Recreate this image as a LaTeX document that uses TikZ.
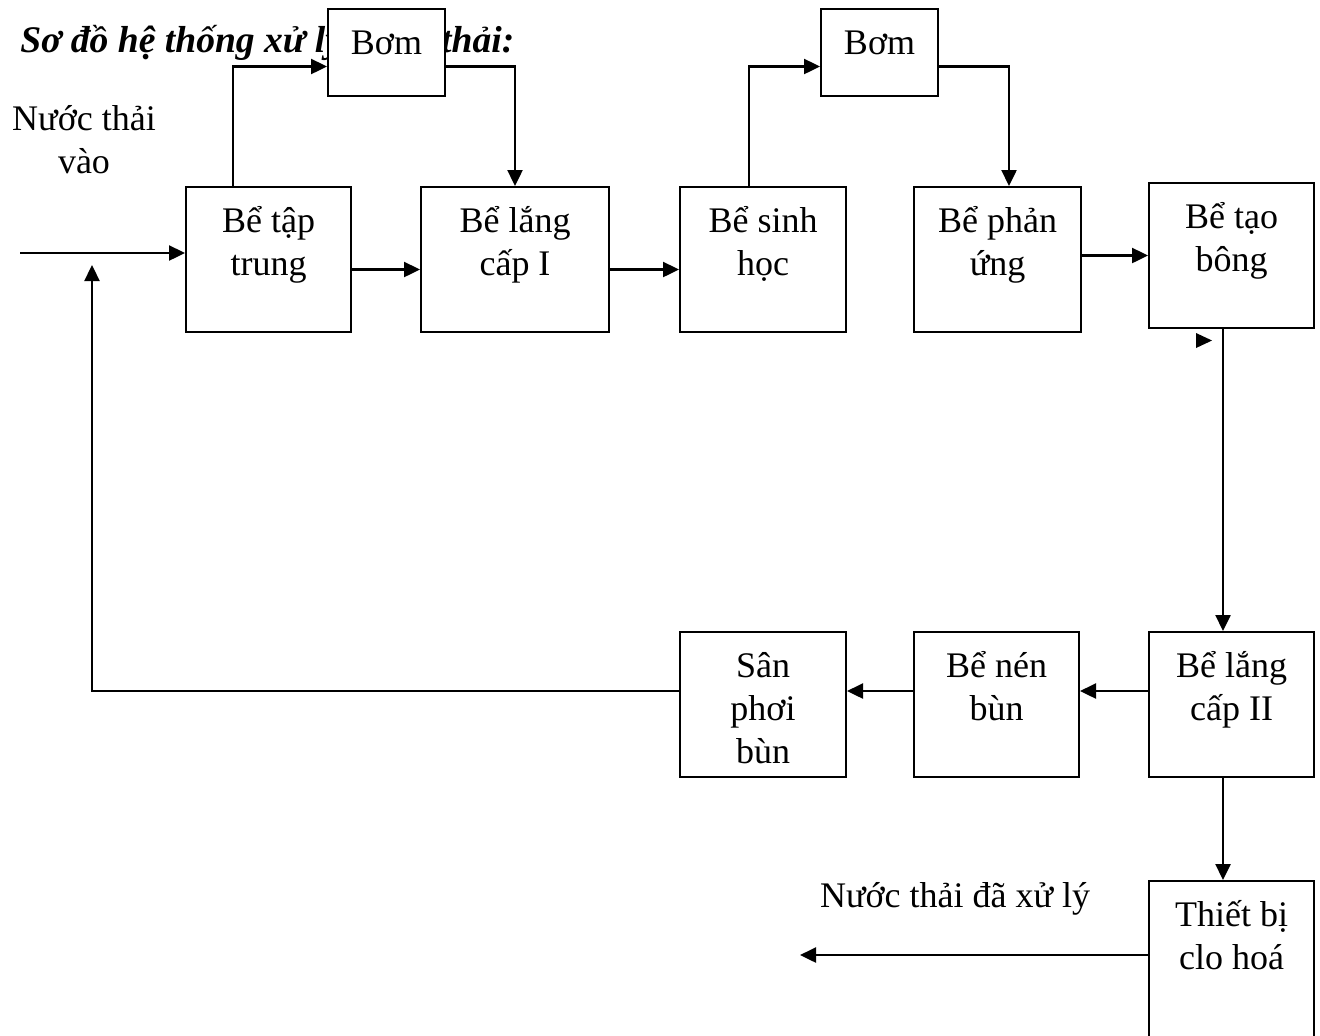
\documentclass[tikz,border=0pt]{standalone}
\usepackage{fontspec}
\setmainfont{Liberation Serif}
\usetikzlibrary{arrows.meta}
\begin{document}
\begin{tikzpicture}[x=0.5pt,y=-0.5pt,
  every node/.style={font=\fontsize{18}{21.5}\selectfont},
  box/.style={draw, line width=1pt, fill=white, inner sep=0pt, anchor=north west},
  txt/.style={align=center, inner sep=0pt, anchor=north},
  arr/.style={line width=1.2pt, -{Triangle[length=8pt,width=7.5pt]}}]
\clip (0,0) rectangle (1320,1035);
\fill[white] (0,0) rectangle (1320,1035);
% title (partly hidden by the pump box)
\node[anchor=base west, inner sep=0pt, font=\fontsize{18.8}{22.5}\selectfont\bfseries\itshape] (title) at (20,52) {Sơ đồ hệ thống xử lý nước thải:};
% boxes
\node[box, minimum width=58.5pt, minimum height=43.5pt] (b1) at (327,8) {};
\node[box, minimum width=58.5pt, minimum height=43.5pt] (b2) at (820,8) {};
\node[box, minimum width=82.5pt, minimum height=72.5pt] (tt) at (185,186) {};
\node[box, minimum width=94pt, minimum height=72.5pt] (l1) at (420,186) {};
\node[box, minimum width=83pt, minimum height=72.5pt] (sh) at (679,186) {};
\node[box, minimum width=83.5pt, minimum height=72.5pt] (pu) at (913,186) {};
\node[box, minimum width=82.5pt, minimum height=72.5pt] (tb) at (1148,182) {};
\node[box, minimum width=82.5pt, minimum height=72.5pt] (l2) at (1148,631) {};
\node[box, minimum width=82.5pt, minimum height=72.5pt] (nb) at (913,631) {};
\node[box, minimum width=83pt, minimum height=72.5pt] (sp) at (679,631) {};
\node[box, minimum width=82.5pt, minimum height=100pt] (cl) at (1148,880) {};
% box texts
\node[txt] (b1t) at ([yshift=-8pt]b1.north) {\strut Bơm};
\node[txt] (b2t) at ([yshift=-8pt]b2.north) {\strut Bơm};
\node[txt] (ttt) at ([yshift=-8pt]tt.north) {\strut Bể tập\\\strut trung};
\node[txt] (l1t) at ([yshift=-8pt]l1.north) {\strut Bể lắng\\\strut cấp I};
\node[txt] (sht) at ([yshift=-8pt]sh.north) {\strut Bể sinh\\\strut học};
\node[txt] (put) at ([yshift=-8pt]pu.north) {\strut Bể phản\\\strut ứng};
\node[txt] (tbt) at ([yshift=-8pt]tb.north) {\strut Bể tạo\\\strut bông};
\node[txt] (l2t) at ([yshift=-8pt]l2.north) {\strut Bể lắng\\\strut cấp II};
\node[txt] (nbt) at ([yshift=-8pt]nb.north) {\strut Bể nén\\\strut bùn};
\node[txt] (spt) at ([yshift=-8pt]sp.north) {\strut Sân\\\strut phơi\\\strut bùn};
\node[txt] (clt) at ([yshift=-8pt]cl.north) {\strut Thiết bị\\\strut clo hoá};
% free labels
\node[txt] (inlbl) at (84,100) {\strut Nước thải\\\strut vào};
\node[txt] (outlbl) at (955,877) {\strut Nước thải đã xử lý};
% free ends
\coordinate (in) at (20,253);
\coordinate (ret) at (92,265);
\coordinate (out) at (800,955);
% connectors
\draw[arr] (in) -- (tt.west |- in);
\draw[arr] ([yshift=-5pt]tt.east) -- ([yshift=-5pt]l1.west);
\draw[arr] ([yshift=-5pt]l1.east) -- ([yshift=-5pt]sh.west);
\draw[arr] (pu.east |- tb.west) -- (tb.west);
\draw[arr] ([xshift=-17.75pt]tt.north) |- ([yshift=-7pt]b1.west);
\draw[arr] ([yshift=-7pt]b1.east) -| (l1.north);
\draw[arr] ([xshift=-7pt]sh.north) |- ([yshift=-7pt]b2.west);
\draw[arr] ([yshift=-7pt]b2.east) -| ([xshift=5.75pt]pu.north);
\draw[arr] ([xshift=-4.25pt]tb.south) -- ([xshift=-4.25pt]l2.north);
\draw[arr] ([yshift=6.75pt]l2.west) -- ([yshift=6.75pt]nb.east);
\draw[arr] ([yshift=6.75pt]nb.west) -- ([yshift=6.75pt]sp.east);
\draw[arr] ([yshift=6.75pt]sp.west) -| (ret);
\draw[arr] ([xshift=-4.25pt]l2.south) -- ([xshift=-4.25pt]cl.north);
\draw[arr] (cl.west |- out) -- (out);
% stray arrowhead
\fill (1196,333) -- (1212,340.5) -- (1196,348) -- cycle;
\end{tikzpicture}
\end{document}
